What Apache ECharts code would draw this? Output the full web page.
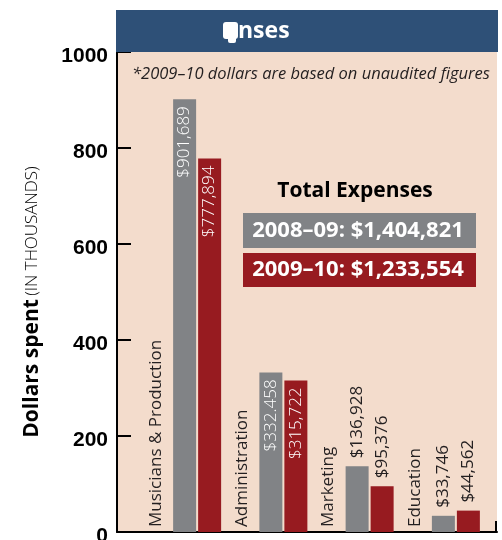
<!DOCTYPE html>
<html>
<head>
<meta charset="utf-8">
<script src="https://cdn.jsdelivr.net/npm/echarts@6/dist/echarts.min.js"></script>
<style>
  html, body { margin: 0; padding: 0; background: #fff; }
  #chart { width: 502px; height: 540px; }
</style>
</head>
<body>
<div id="chart"></div>
<script>
// 数据 (in thousands of dollars)
var categories = ['Musicians & Production', 'Administration', 'Marketing', 'Education'];
var spent0809 = [901.689, 332.458, 136.928, 33.746];
var spent0910 = [777.894, 315.722, 95.376, 44.562];
var labels0809 = ['$901,689', '$332.458', '$136,928', '$33,746'];
var labels0910 = ['$777,894', '$315,722', '$95,376', '$44,562'];
var labelInside = [true, true, false, false];
var yTicks = [0, 200, 400, 600, 800, 1000];
var totals = ['2008–09: $1,404,821', '2009–10: $1,233,554'];

var GREY = '#818386';
var RED = '#971B20';
var PEACH = '#F3DCCC';
var NAVY = '#2E5077';
var INK = '#231F20';
var FONT = '"Open Sans", "Noto Sans", sans-serif';

// 每个柱子的标签：前两组在柱内（白字），后两组在柱上方
function makeData(values, labels) {
    return values.map(function (v, i) {
        var inside = labelInside[i];
        return {
            value: v,
            label: {
                show: true,
                formatter: labels[i],
                position: inside ? 'insideTop' : 'top',
                rotate: 90,
                align: inside ? 'right' : 'left',
                verticalAlign: 'middle',
                distance: inside ? 7 : 8,
                color: inside ? '#fff' : INK,
                fontFamily: FONT,
                fontSize: 17,
                fontWeight: inside ? 300 : 'normal'
            }
        };
    });
}

var chart = echarts.init(document.getElementById('chart'), null, { renderer: 'canvas' });

// 三个 grid 都固定位置，不让标签把 grid 挤小
var gridBox = { top: 52, bottom: 8, outerBoundsMode: 'none', containLabel: false };

var option = {
    animation: false,
    backgroundColor: '#fff',
    grid: [
        Object.assign({ left: 117, right: 5, show: true, backgroundColor: PEACH, borderWidth: 0 }, gridBox),
        Object.assign({ left: 154, width: 345 }, gridBox),
        Object.assign({ left: 113, width: 345 }, gridBox)
    ],
    xAxis: [
        {
            gridIndex: 0, type: 'value', min: 0, max: 1,
            axisLine: { show: true, lineStyle: { color: '#000', width: 2 } },
            axisTick: { show: false }, axisLabel: { show: false }, splitLine: { show: false }
        },
        {
            gridIndex: 1, type: 'category', data: categories,
            axisLine: { show: false }, axisTick: { show: false }, axisLabel: { show: false }
        },
        {
            gridIndex: 2, type: 'category', data: categories,
            axisLine: { show: false }, axisTick: { show: false },
            axisLabel: {
                show: true, inside: true, rotate: 90, interval: 0, margin: 5,
                color: INK, fontFamily: FONT, fontSize: 17
            }
        }
    ],
    yAxis: [
        {
            gridIndex: 0, type: 'value', min: yTicks[0], max: yTicks[yTicks.length - 1], interval: 200,
            axisLine: { show: true, lineStyle: { color: '#000', width: 2 } },
            axisTick: { show: true, inside: true, length: 14, lineStyle: { color: '#000', width: 2 } },
            splitLine: { show: false },
            axisLabel: {
                margin: 9,
                // 标签比刻度稍低
                formatter: function (v) { return '{n|' + v + '}'; },
                rich: {
                    n: {
                        padding: [9, 0, 0, 0], color: '#000',
                        fontFamily: '"Liberation Sans", sans-serif',
                        fontSize: 21, fontWeight: 'bold'
                    }
                }
            },
            name: '{b|Dollars spent} {s|(IN THOUSANDS)}',
            nameLocation: 'middle',
            nameRotate: 90,
            nameGap: 74,
            nameTextStyle: {
                padding: [0, 20, 0, 0],
                rich: {
                    b: { fontFamily: FONT, fontSize: 21, fontWeight: 'bold', color: '#000' },
                    s: { fontFamily: FONT, fontSize: 17, fontWeight: 300, color: '#000' }
                }
            }
        },
        { gridIndex: 1, type: 'value', min: 0, max: 1000, show: false },
        { gridIndex: 2, type: 'value', min: 0, max: 1000, show: false }
    ],
    series: [
        {
            name: '2008–09', type: 'bar', xAxisIndex: 1, yAxisIndex: 1,
            barWidth: 23, barGap: '8.7%',
            itemStyle: { color: GREY },
            data: makeData(spent0809, labels0809)
        },
        {
            name: '2009–10', type: 'bar', xAxisIndex: 1, yAxisIndex: 1,
            barWidth: 23, barGap: '8.7%',
            itemStyle: { color: RED },
            data: makeData(spent0910, labels0910)
        }
    ],
    graphic: [
        // 标题栏
        { type: 'rect', shape: { x: 116, y: 10, width: 382, height: 42 }, style: { fill: NAVY }, z: 10 },
        { type: 'rect', shape: { x: 223, y: 22, width: 15, height: 17, r: 3 }, style: { fill: '#fff' }, z: 11 },
        { type: 'rect', shape: { x: 228, y: 36, width: 8, height: 7, r: 2 }, style: { fill: '#fff' }, z: 11 },
        {
            type: 'text', x: 238, y: 31, z: 11,
            style: { text: 'nses', fill: '#fff', font: 'bold 23px "Open Sans", sans-serif', textAlign: 'left', textVerticalAlign: 'middle' }
        },
        {
            type: 'text', x: 132, y: 74, z: 11,
            style: { text: '*2009–10 dollars are based on unaudited figures', fill: INK, font: 'italic 16.5px "Open Sans", sans-serif', textAlign: 'left', textVerticalAlign: 'middle' }
        },
        // Total Expenses 框
        {
            type: 'text', x: 355, y: 191, z: 11,
            style: { text: 'Total Expenses', fill: '#000', font: 'bold 21px "Open Sans", sans-serif', textAlign: 'center', textVerticalAlign: 'middle' }
        },
        { type: 'rect', shape: { x: 243, y: 213, width: 233, height: 35 }, style: { fill: GREY }, z: 10 },
        {
            type: 'text', x: 358, y: 231, z: 11,
            style: { text: totals[0], fill: '#fff', font: 'bold 22px "Open Sans", sans-serif', textAlign: 'center', textVerticalAlign: 'middle' }
        },
        { type: 'rect', shape: { x: 243, y: 253, width: 233, height: 34 }, style: { fill: RED }, z: 10 },
        {
            type: 'text', x: 358, y: 270, z: 11,
            style: { text: totals[1], fill: '#fff', font: 'bold 22px "Open Sans", sans-serif', textAlign: 'center', textVerticalAlign: 'middle' }
        },
        // x轴右端小刻度
        { type: 'line', shape: { x1: 496, y1: 521, x2: 496, y2: 533 }, style: { stroke: '#000', lineWidth: 2 }, z: 11 }
    ]
};

chart.setOption(option);
</script>
</body>
</html>
